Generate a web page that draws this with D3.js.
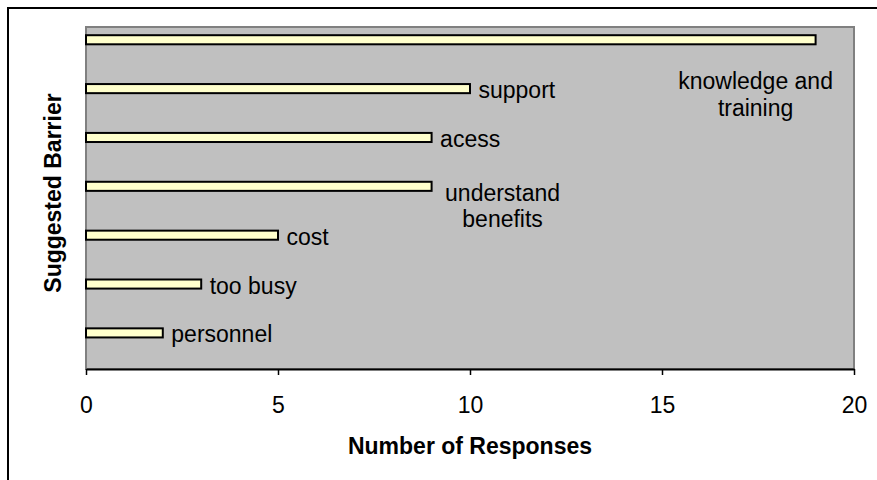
<!DOCTYPE html>
<html>
<head>
<meta charset="utf-8">
<script src="https://cdn.jsdelivr.net/npm/d3@7"></script>
<style>
  html, body { margin: 0; padding: 0; background: #fff; }
  svg { display: block; font-family: "Liberation Sans", Arial, sans-serif; }
</style>
</head>
<body>
<svg id="chart" width="877" height="480"></svg>
<script>
// Suggested barriers, top to bottom, with the number of responses for each
const categories = ["knowledge and training", "support", "acess", "understand benefits", "cost", "too busy", "personnel"];
const responses = [19, 10, 9, 9, 5, 3, 2];
// Label text as it is wrapped on the chart
const labelLines = [["knowledge and", "training"], ["support"], ["acess"], ["understand", "benefits"], ["cost"], ["too busy"], ["personnel"]];
const xTicks = [0, 5, 10, 15, 20];

const svg = d3.select("#chart");
const plot = { left: 86, right: 854, top: 27, bottom: 369 };

// outer chart frame
svg.append("rect")
  .attr("x", 8).attr("y", 8)
  .attr("width", 960).attr("height", 560)
  .attr("fill", "#fff").attr("stroke", "#000").attr("stroke-width", 2);

const x = d3.scaleLinear().domain([0, 20]).range([plot.left, plot.right]);
const y = d3.scaleBand().domain(categories).range([plot.top, plot.bottom]).padding(0);
const bw = y.bandwidth();

// plot area
svg.append("rect")
  .attr("x", plot.left).attr("y", plot.top)
  .attr("width", plot.right - plot.left).attr("height", plot.bottom - plot.top)
  .attr("fill", "#C0C0C0").attr("stroke", "#808080").attr("stroke-width", 2);

// bars sit in the upper part of each category band
const barY = c => y(c) + bw * 0.168;
const barH = bw * 0.186;

svg.append("g").selectAll("rect")
  .data(categories)
  .join("rect")
  .attr("x", x(0))
  .attr("y", d => barY(d))
  .attr("width", (d, i) => x(responses[i]) - x(0))
  .attr("height", barH)
  .attr("fill", "#FFFFCC")
  .attr("stroke", "#000")
  .attr("stroke-width", 2);

// x axis
const xAxis = svg.append("g")
  .attr("transform", `translate(0,${plot.bottom})`)
  .call(d3.axisBottom(x).tickValues(xTicks).tickSize(6).tickPadding(22).tickSizeOuter(0));
xAxis.select(".domain").attr("stroke", "#000").attr("stroke-width", 2);
xAxis.selectAll(".tick line").attr("stroke", "#000").attr("stroke-width", 1.5);
xAxis.selectAll(".tick text")
  .attr("font-size", 23)
  .attr("font-family", "'Liberation Sans', Arial, sans-serif")
  .attr("fill", "#000");

// category labels; the two wrapped ones are placed off to the right of their bars
const labelPlace = {
  0: { anchor: "middle", dx: -60, dy: 49.5 },
  3: { anchor: "middle", dx: 71, dy: 14.3 }
};
const labels = svg.append("g").attr("font-size", 23).attr("fill", "#000");
categories.forEach((c, i) => {
  const cy = barY(c) + barH / 2;
  const p = labelPlace[i] || { anchor: "start", dx: 8.5, dy: 9.6 };
  const t = labels.append("text")
    .attr("x", x(responses[i]) + p.dx)
    .attr("y", cy + p.dy)
    .attr("text-anchor", p.anchor);
  labelLines[i].forEach((line, k) => {
    t.append("tspan")
      .attr("x", x(responses[i]) + p.dx)
      .attr("dy", k === 0 ? 0 : 26.5)
      .text(line);
  });
});

// axis titles
svg.append("text")
  .attr("x", (plot.left + plot.right) / 2)
  .attr("y", 454)
  .attr("text-anchor", "middle")
  .attr("font-size", 23).attr("font-weight", "bold")
  .text("Number of Responses");

svg.append("text")
  .attr("transform", `translate(61,193) rotate(-90)`)
  .attr("text-anchor", "middle")
  .attr("font-size", 23).attr("font-weight", "bold")
  .text("Suggested Barrier");
</script>
</body>
</html>
